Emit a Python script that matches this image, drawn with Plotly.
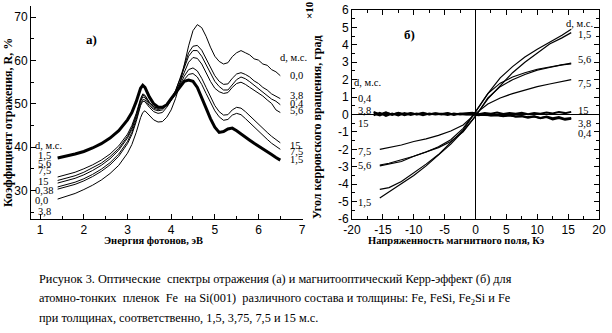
import plotly.graph_objects as go

# ---------------- data: panel a) reflectance spectra ----------------
energy = [1.4, 1.6, 1.8, 2.0, 2.2, 2.4, 2.6, 2.8, 3.0, 3.1, 3.2, 3.3, 3.35, 3.4,
          3.5, 3.6, 3.7, 3.8, 3.9, 4.0, 4.1, 4.2, 4.3, 4.4, 4.5, 4.6, 4.7, 4.8, 4.9,
          5.0, 5.1, 5.2, 5.3, 5.4, 5.5, 5.6, 5.7, 5.8, 5.9, 6.0, 6.1, 6.2, 6.3, 6.4, 6.5]

R_00 = [28.0, 28.6, 29.3, 30.2, 31.2, 32.4, 33.9, 35.8, 38.6, 40.6, 43.4, 46.8, 48.0, 48.4,
        47.4, 46.3, 45.8, 45.9, 46.9, 48.6, 51.2, 54.6, 59.0, 63.4, 66.9, 68.3, 67.6, 65.6, 63.1,
        61.0, 59.8, 59.2, 59.5, 60.9, 61.8, 62.3, 61.8, 61.3, 60.4, 60.1, 59.2, 58.9, 57.9, 57.4, 56.5]
R_38 = [30.3, 30.8, 31.4, 32.2, 33.2, 34.4, 35.9, 37.9, 40.8, 42.9, 45.9, 49.6, 50.6, 50.5,
        49.2, 48.2, 47.8, 48.0, 49.2, 50.8, 53.0, 55.8, 58.9, 61.8, 63.3, 63.5, 62.4, 60.4, 58.3,
        56.5, 55.2, 54.5, 54.6, 55.9, 56.9, 57.2, 56.8, 56.2, 55.3, 54.7, 53.8, 53.2, 52.3, 51.8, 51.2]
R_04 = [30.8, 31.3, 31.9, 32.7, 33.7, 34.9, 36.4, 38.4, 41.3, 43.4, 46.4, 50.0, 51.0, 50.9,
        49.6, 48.7, 48.4, 48.6, 49.6, 51.0, 53.0, 55.6, 58.5, 61.0, 62.3, 62.3, 61.0, 59.0, 57.0,
        55.2, 54.0, 53.2, 53.2, 54.3, 55.6, 56.2, 55.8, 55.1, 54.3, 53.6, 52.7, 52.1, 51.1, 50.6, 49.8]
R_56 = [33.1, 33.6, 34.2, 35.0, 35.9, 37.0, 38.4, 40.3, 43.0, 45.0, 47.8, 51.2, 52.3, 52.0,
        50.4, 49.3, 49.0, 49.2, 50.0, 51.2, 52.8, 54.9, 57.4, 59.6, 60.7, 60.5, 59.2, 57.2, 55.2,
        53.6, 52.8, 52.4, 52.6, 53.8, 54.7, 55.0, 54.5, 53.8, 53.2, 52.4, 51.8, 50.9, 50.1, 48.6, 48.0]
R_15 = [31.7, 32.2, 32.8, 33.6, 34.6, 35.8, 37.3, 39.3, 42.1, 44.1, 47.0, 50.6, 51.6, 51.4,
        50.0, 49.0, 48.7, 48.9, 49.7, 50.9, 52.4, 54.3, 56.4, 57.9, 58.3, 57.6, 55.9, 53.8, 51.6,
        49.6, 48.2, 47.4, 47.5, 48.6, 49.2, 49.0, 48.2, 47.2, 46.3, 45.3, 44.4, 43.4, 42.5, 41.7, 41.0]
R_75 = [32.3, 32.8, 33.4, 34.2, 35.2, 36.3, 37.8, 39.7, 42.5, 44.5, 47.4, 50.9, 52.0, 51.8,
        50.3, 49.3, 49.0, 49.1, 49.8, 50.8, 52.1, 53.8, 55.6, 56.8, 57.0, 56.2, 54.5, 52.4, 50.3,
        48.4, 47.0, 46.2, 46.4, 47.4, 47.8, 47.5, 46.6, 45.6, 44.7, 43.7, 42.7, 41.8, 40.9, 40.1, 39.5]
R_15_thick = [37.5, 37.9, 38.4, 39.0, 39.8, 40.8, 42.1, 43.8, 46.3, 48.0, 50.5, 53.6, 54.3, 53.8,
              51.6, 50.0, 49.3, 49.2, 49.8, 51.2, 52.6, 54.0, 55.2, 55.5, 55.2, 53.8, 51.6, 49.0, 46.6,
              44.6, 43.4, 43.6, 44.2, 44.4, 43.8, 43.0, 42.2, 41.6, 40.9, 40.3, 39.7, 39.0, 38.3, 37.6, 37.0]

# ---------------- data: panel б) Kerr loops ----------------
H_down = [15.5, 14, 12, 10, 8, 6, 4, 2, 0, -2, -4, -6, -8, -10, -12, -14, -15.5]
H_up = [-15.5, -14, -12, -10, -8, -6, -4, -2, 0, 2, 4, 6, 8, 10, 12, 14, 15.5]
K15_down = [4.9, 4.55, 4.15, 3.75, 3.3, 2.75, 2.1, 1.2, 0.15, -0.9, -1.6, -2.3, -2.85, -3.35, -3.85, -4.2, -4.3]
K15_up = [-4.8, -4.45, -3.95, -3.5, -2.95, -2.35, -1.7, -0.95, -0.1, 0.9, 1.65, 2.4, 3.0, 3.55, 4.05, 4.4, 4.7]
K56_down = [2.95, 2.85, 2.75, 2.6, 2.4, 2.15, 1.8, 1.2, 0.15, -0.8, -1.45, -1.85, -2.15, -2.4, -2.6, -2.8, -2.9]
K56_up = [-2.95, -2.85, -2.7, -2.4, -2.15, -1.9, -1.55, -1.0, -0.1, 0.95, 1.6, 2.0, 2.3, 2.55, 2.7, 2.85, 2.9]
K75_up = [-2.0, -1.9, -1.75, -1.55, -1.4, -1.2, -0.95, -0.6, 0.05, 0.6, 0.95, 1.2, 1.4, 1.6, 1.75, 1.9, 2.0]

H_flat = [-16.5, -15.5, -14.5, -13.5, -12.5, -11.5, -10.5, -9.5, -8.5, -7.5, -6.5, -5.5, -4.5, -3.5,
          -2.5, -1.5, -0.5, 0.5, 1.5, 2.5, 3.5, 4.5, 5.5, 6.5, 7.5, 8.5, 9.5, 10.5, 11.5, 12.5, 13.5,
          14.5, 15.5]
K_flat15 = [0.05, -0.05, 0.1, 0.0, 0.08, -0.04, 0.06, 0.02, 0.1, 0.0, 0.07, 0.03, 0.08, -0.02, 0.05,
            0.06, 0.1, 0.02, 0.08, 0.05, 0.12, 0.03, 0.08, 0.04, 0.1, 0.02, 0.09, 0.05, 0.12, 0.06,
            0.14, 0.08, 0.15]
K_flat38 = [-0.05, 0.1, -0.08, 0.05, -0.05, 0.08, -0.02, 0.06, -0.04, 0.05, 0.0, 0.04, -0.03, 0.05,
            0.0, 0.03, 0.0, -0.02, 0.0, -0.05, -0.02, -0.08, -0.05, -0.12, -0.08, -0.15, -0.1, -0.2,
            -0.12, -0.22, -0.15, -0.25, -0.2]
K_flat04 = [0.15, 0.0, 0.12, -0.02, 0.1, 0.02, 0.08, 0.0, 0.06, 0.02, 0.05, 0.0, 0.05, 0.02, 0.04,
            0.0, 0.02, -0.04, 0.0, -0.06, -0.04, -0.1, -0.05, -0.12, -0.1, -0.18, -0.12, -0.22,
            -0.15, -0.28, -0.2, -0.3, -0.25]

# tick labels
xa_ticks = [1, 2, 3, 4, 5, 6, 7]
ya_ticks = [30, 40, 50, 60, 70]
xb_ticks = [-20, -15, -10, -5, 0, 5, 10, 15, 20]
xb_text = ["-20", "-15", "-10", "-5", "0", "5", "10", "15", "20"]
yb_ticks = [-6, -5, -4, -3, -2, -1, 0, 1, 2, 3, 4, 5, 6]
yb_text = ["-6", "-5", "-4", "-3", "-2", "-1", "0", "1", "2", "3", "4", "5", "6"]

W, Hh = 612, 333


def P(x, y):
    return x / W, 1 - y / Hh


fig = go.Figure()
thin = dict(color="black", width=1)
for ys in [R_00, R_38, R_04, R_56, R_15, R_75]:
    fig.add_trace(go.Scatter(x=energy, y=ys, mode="lines", line=thin, xaxis="x", yaxis="y",
                             showlegend=False, hoverinfo="skip"))
fig.add_trace(go.Scatter(x=energy, y=R_15_thick, mode="lines", line=dict(color="black", width=3),
                         xaxis="x", yaxis="y", showlegend=False, hoverinfo="skip"))

for hx, ky in [(H_flat, K_flat15), (H_flat, K_flat38), (H_flat, K_flat04)]:
    fig.add_trace(go.Scatter(x=hx, y=ky, mode="lines", line=dict(color="black", width=2),
                             xaxis="x2", yaxis="y2", showlegend=False, hoverinfo="skip"))
for hx, ky in [(H_down, K15_down), (H_up, K15_up), (H_down, K56_down), (H_up, K56_up), (H_up, K75_up)]:
    fig.add_trace(go.Scatter(x=hx, y=ky, mode="lines", line=dict(color="black", width=1.2),
                             xaxis="x2", yaxis="y2", showlegend=False, hoverinfo="skip"))

tickfont = dict(family="Liberation Sans, Arial", size=12, color="black")
axcommon = dict(showgrid=False, showline=True, linecolor="black", linewidth=1, ticks="inside",
                ticklen=5, tickcolor="black", tickfont=tickfont, automargin=False)

fig.update_layout(
    width=W, height=Hh, margin=dict(l=0, r=0, t=0, b=0, pad=0), autosize=False,
    paper_bgcolor="white", plot_bgcolor="white",
    xaxis=dict(domain=[31 / W, 303 / W], range=[0.79, 7.02], tickvals=xa_ticks,
               minor=dict(dtick=0.5, tick0=0, ticks="inside", ticklen=3, tickcolor="black"),
               anchor="y", zeroline=False, **axcommon),
    yaxis=dict(domain=[1 - 219 / Hh, 1 - 6 / Hh], range=[23.4, 72.6], tickvals=ya_ticks,
               minor=dict(dtick=5, tick0=0, ticks="inside", ticklen=3, tickcolor="black"),
               anchor="x", zeroline=False, **axcommon),
    xaxis2=dict(domain=[352 / W, 599 / W], range=[-20, 20], tickvals=xb_ticks, ticktext=xb_text,
                minor=dict(dtick=2.5, tick0=0, ticks="inside", ticklen=3, tickcolor="black"),
                anchor="y2", mirror="allticks", zeroline=True,
                zerolinecolor="black", zerolinewidth=1, **axcommon),
    yaxis2=dict(domain=[1 - 219 / Hh, 1 - 10 / Hh], range=[-6, 6], tickvals=yb_ticks, ticktext=yb_text,
                minor=dict(dtick=0.5, tick0=0, ticks="inside", ticklen=3, tickcolor="black"),
                anchor="x2", mirror="allticks", zeroline=True,
                zerolinecolor="black", zerolinewidth=1, **axcommon),
)

narrow = "Liberation Sans Narrow"
ann = []


def add(text, x, y, size=11, family=narrow, xanchor="left", angle=0, bold=False):
    px, py = P(x, y)
    t = f"<b>{text}</b>" if bold else text
    ann.append(dict(text=t, x=px, y=py, xref="paper", yref="paper", showarrow=False,
                    xanchor=xanchor, yanchor="middle", textangle=angle, borderpad=0,
                    font=dict(family=family, size=size, color="black")))


# axis titles
add("Энергия фотонов, эВ", 153, 240, size=10.5, xanchor="center", bold=True)
add("Напряженность магнитного поля, Кэ", 456, 240, size=10.5, xanchor="center", bold=True)
add("Коэффициент отражения, R, %", 8, 123, size=12, xanchor="center", angle=-90, bold=True)
add("Угол керровского вращения, град", 317, 127, size=12, xanchor="center", angle=-90, bold=True)
add("×10", 309, 10, size=11, xanchor="center", angle=-90, bold=True)
add("а)", 91, 39, size=13, family="Liberation Serif", xanchor="center", bold=True)
add("б)", 409, 35, size=13, family="Liberation Serif", xanchor="center", bold=True)

# panel a labels
for t, y in [("d, м.с.", 145), ("1,5", 155), ("5,6", 163), ("7,5", 170), ("15", 181),
             ("0,38", 191), ("0,0", 200), ("3,8", 211)]:
    add(t, 34 if t in ("d, м.с.", "0,38", "0,0") else 37, y, size=10.5)
for t, y in [("d, м.с.", 57), ("0,0", 75), ("3,8", 96), ("0,4", 103), ("5,6", 111),
             ("15", 145), ("7,5", 152), ("1,5", 159)]:
    add(t, 279 if t == "d, м.с." else 289, y, size=10.5)

# panel b labels
for t, y in [("d, м.с.", 23), ("1,5", 35), ("5,6", 60), ("7,5", 83), ("15", 110), ("3,8", 123), ("0,4", 133)]:
    add(t, 565 if t == "d, м.с." else 577, y, size=10.5)
for t, y in [("d, м.с.", 82), ("0,4", 98), ("3,8", 110), ("15", 123), ("7,5", 152), ("5,6", 165), ("1,5", 202)]:
    add(t, 353 if t == "d, м.с." else 357, y, size=10.5)

# caption
cap = [
    ("Рисунок 3. Оптические  спектры отражения (а) и магнитооптический Керр-эффект (б) для", 279),
    ("атомно-тонких  пленок  Fe  на Si(001)  различного состава и толщины: Fe, FeSi, Fe<sub>2</sub>Si и Fe", 299),
    ("при толщинах, соответственно, 1,5, 3,75, 7,5 и 15 м.с.", 318),
]
for t, y in cap:
    add(t, 38, y, size=12.3, family="Liberation Serif")

fig.update_layout(annotations=ann)
fig.write_html("out.html")
